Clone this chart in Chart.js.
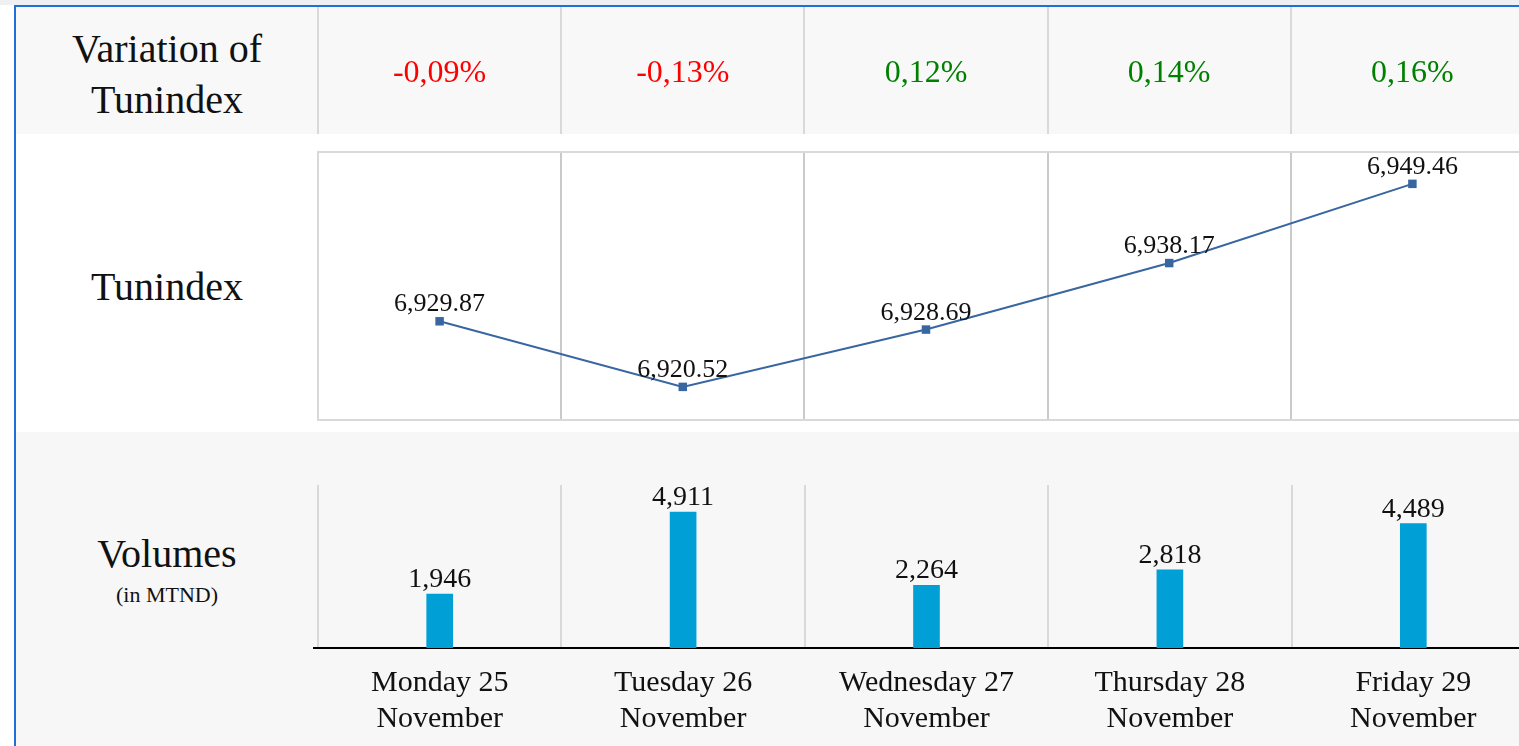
<!DOCTYPE html>
<html>
<head>
<meta charset="utf-8">
<title>Tunindex</title>
<script src="https://cdn.jsdelivr.net/npm/chart.js@4"></script>
<style>
html, body { margin: 0; padding: 0; overflow: hidden; background: #fff; }
body { width: 1519px; height: 746px; position: relative; font-family: 'Liberation Serif', serif; color: #111; }
.abs { position: absolute; }
#strip { left: 0; top: 0; width: 1519px; height: 5px; background: #eef0f2; }
#blue_top { left: 14px; top: 5px; width: 1505px; height: 2px; background: #1f6fd8; }
#blue_left { left: 14px; top: 5px; width: 2px; height: 741px; background: #1f6fd8; }
#row_top { left: 16px; top: 7px; width: 1503px; height: 127px; background: #f8f8f8; }
#row_bottom { left: 16px; top: 432px; width: 1503px; height: 314px; background: #f7f7f7; }
.label { left: 16px; width: 302px; text-align: center; font-size: 40px; line-height: 51px; }
#lbl_var { top: 23px; }
#lbl_idx { top: 261px; }
#lbl_vol { top: 528px; }
#lbl_unit { top: 584px; font-size: 22px; line-height: 22px; }
#cv_line { left: 0; top: 7px; }
#cv_bar { left: 0; top: 432px; }
</style>
</head>
<body>
<div class="abs" id="strip"></div>
<div class="abs" id="row_top"></div>
<div class="abs" id="row_bottom"></div>
<div class="abs" id="blue_top"></div>
<div class="abs" id="blue_left"></div>
<div class="abs label" id="lbl_var">Variation of<br>Tunindex</div>
<div class="abs label" id="lbl_idx">Tunindex</div>
<div class="abs label" id="lbl_vol">Volumes</div>
<div class="abs label" id="lbl_unit">(in MTND)</div>
<canvas class="abs" id="cv_line" width="1540" height="425"></canvas>
<canvas class="abs" id="cv_bar" width="1540" height="324"></canvas>
<script>
const days = [['Monday 25', 'November'], ['Tuesday 26', 'November'], ['Wednesday 27', 'November'], ['Thursday 28', 'November'], ['Friday 29', 'November']];
const variations = [-0.09, -0.13, 0.12, 0.14, 0.16];
const tunindex = [6929.87, 6920.52, 6928.69, 6938.17, 6949.46];
const volumes = [1946, 4911, 2264, 2818, 4489];

const idx_range = [6915.8, 6954.0];
const vol_range = [0, 5885];

const serif = '"Liberation Serif", serif';
const line_color = '#3866a0';
const bar_color = '#009fd6';

// labels above the points / bars
function valueLabels(size, gap, digits)
{
	return {
		id: 'value_labels',
		afterDatasetsDraw: function(chart)
		{
			const ctx = chart.ctx;
			const meta = chart.getDatasetMeta(0);
			const data = chart.data.datasets[0].data;

			ctx.save();
			ctx.font = size + 'px ' + serif;
			ctx.fillStyle = '#111';
			ctx.textAlign = 'center';
			ctx.textBaseline = 'alphabetic';

			for (let i = 0; i < meta.data.length; ++i)
			{
				const el = meta.data[i];
				const txt = data[i].toLocaleString('en-US', { minimumFractionDigits: digits, maximumFractionDigits: digits });
				ctx.fillText(txt, el.x, el.y - gap);
			}

			ctx.restore();
		}
	};
}

const frame =
{
	id: 'frame',
	beforeDatasetsDraw: function(chart)
	{
		const a = chart.chartArea;
		const ctx = chart.ctx;

		ctx.save();
		ctx.strokeStyle = '#d9d9d9';
		ctx.lineWidth = 2;
		ctx.strokeRect(a.left, a.top, a.right - a.left, a.bottom - a.top);
		ctx.restore();
	}
};

// the base line sticks out a little on the left
const axis_stub =
{
	id: 'axis_stub',
	afterDraw: function(chart)
	{
		const a = chart.chartArea;
		const ctx = chart.ctx;

		ctx.save();
		ctx.fillStyle = '#000';
		ctx.fillRect(a.left - 5, a.bottom - 1, 6, 2);
		ctx.restore();
	}
};

// variation row, drawn on the same x scale as the line
const top_row =
{
	id: 'top_row',
	afterDraw: function(chart)
	{
		const ctx = chart.ctx;
		const x = chart.scales.x;
		const half = (x.getPixelForValue(1) - x.getPixelForValue(0)) / 2;

		ctx.save();
		ctx.fillStyle = '#d9d9d9';
		for (let i = 0; i < days.length; ++i) ctx.fillRect(Math.round(x.getPixelForValue(i) - half) - 1, 0, 2, 127);

		ctx.font = '32px ' + serif;
		ctx.textAlign = 'center';
		ctx.textBaseline = 'alphabetic';
		for (let i = 0; i < variations.length; ++i)
		{
			const v = variations[i];
			ctx.fillStyle = v < 0 ? '#ff0000' : '#008000';
			ctx.fillText(v.toFixed(2).replace('.', ',') + '%', x.getPixelForValue(i), 75);
		}
		ctx.restore();
	}
};

function onLoad()
{
	new Chart(document.getElementById('cv_line'),
	{
		type: 'line',
		data:
		{
			labels: days,
			datasets: [{
				data: tunindex,
				borderColor: line_color,
				borderWidth: 2,
				pointStyle: 'rect',
				pointRadius: 6,
				pointBorderWidth: 0,
				pointBackgroundColor: line_color,
				tension: 0
			}]
		},
		options:
		{
			responsive: false,
			animation: false,
			layout: { padding: { left: 318, right: 5, top: 145, bottom: 12 } },
			plugins: { legend: { display: false }, tooltip: { enabled: false } },
			scales:
			{
				x:
				{
					offset: true,
					ticks: { display: false },
					grid: { offset: true, color: '#cacaca', lineWidth: 2, drawTicks: false },
					border: { display: false }
				},
				y: { display: false, min: idx_range[0], max: idx_range[1] }
			}
		},
		plugins: [frame, top_row, valueLabels(26, 10, 2)]
	});

	new Chart(document.getElementById('cv_bar'),
	{
		type: 'bar',
		data:
		{
			labels: days,
			datasets: [{ data: volumes, backgroundColor: bar_color, barThickness: 26 }]
		},
		options:
		{
			responsive: false,
			animation: false,
			layout: { padding: { left: 318, right: 5, top: 53, bottom: 2 } },
			plugins: { legend: { display: false }, tooltip: { enabled: false } },
			scales:
			{
				x:
				{
					offset: true,
					ticks: { color: '#111', padding: 17, maxRotation: 0, autoSkip: false, font: { family: serif, size: 30, lineHeight: 36 / 30 } },
					grid: { offset: true, color: '#d9d9d9', lineWidth: 2, drawTicks: false },
					border: { color: '#000', width: 2 }
				},
				y: { display: false, min: vol_range[0], max: vol_range[1] }
			}
		},
		plugins: [axis_stub, valueLabels(28, 7, 0)]
	});
}

onLoad();
</script>
</body>
</html>
